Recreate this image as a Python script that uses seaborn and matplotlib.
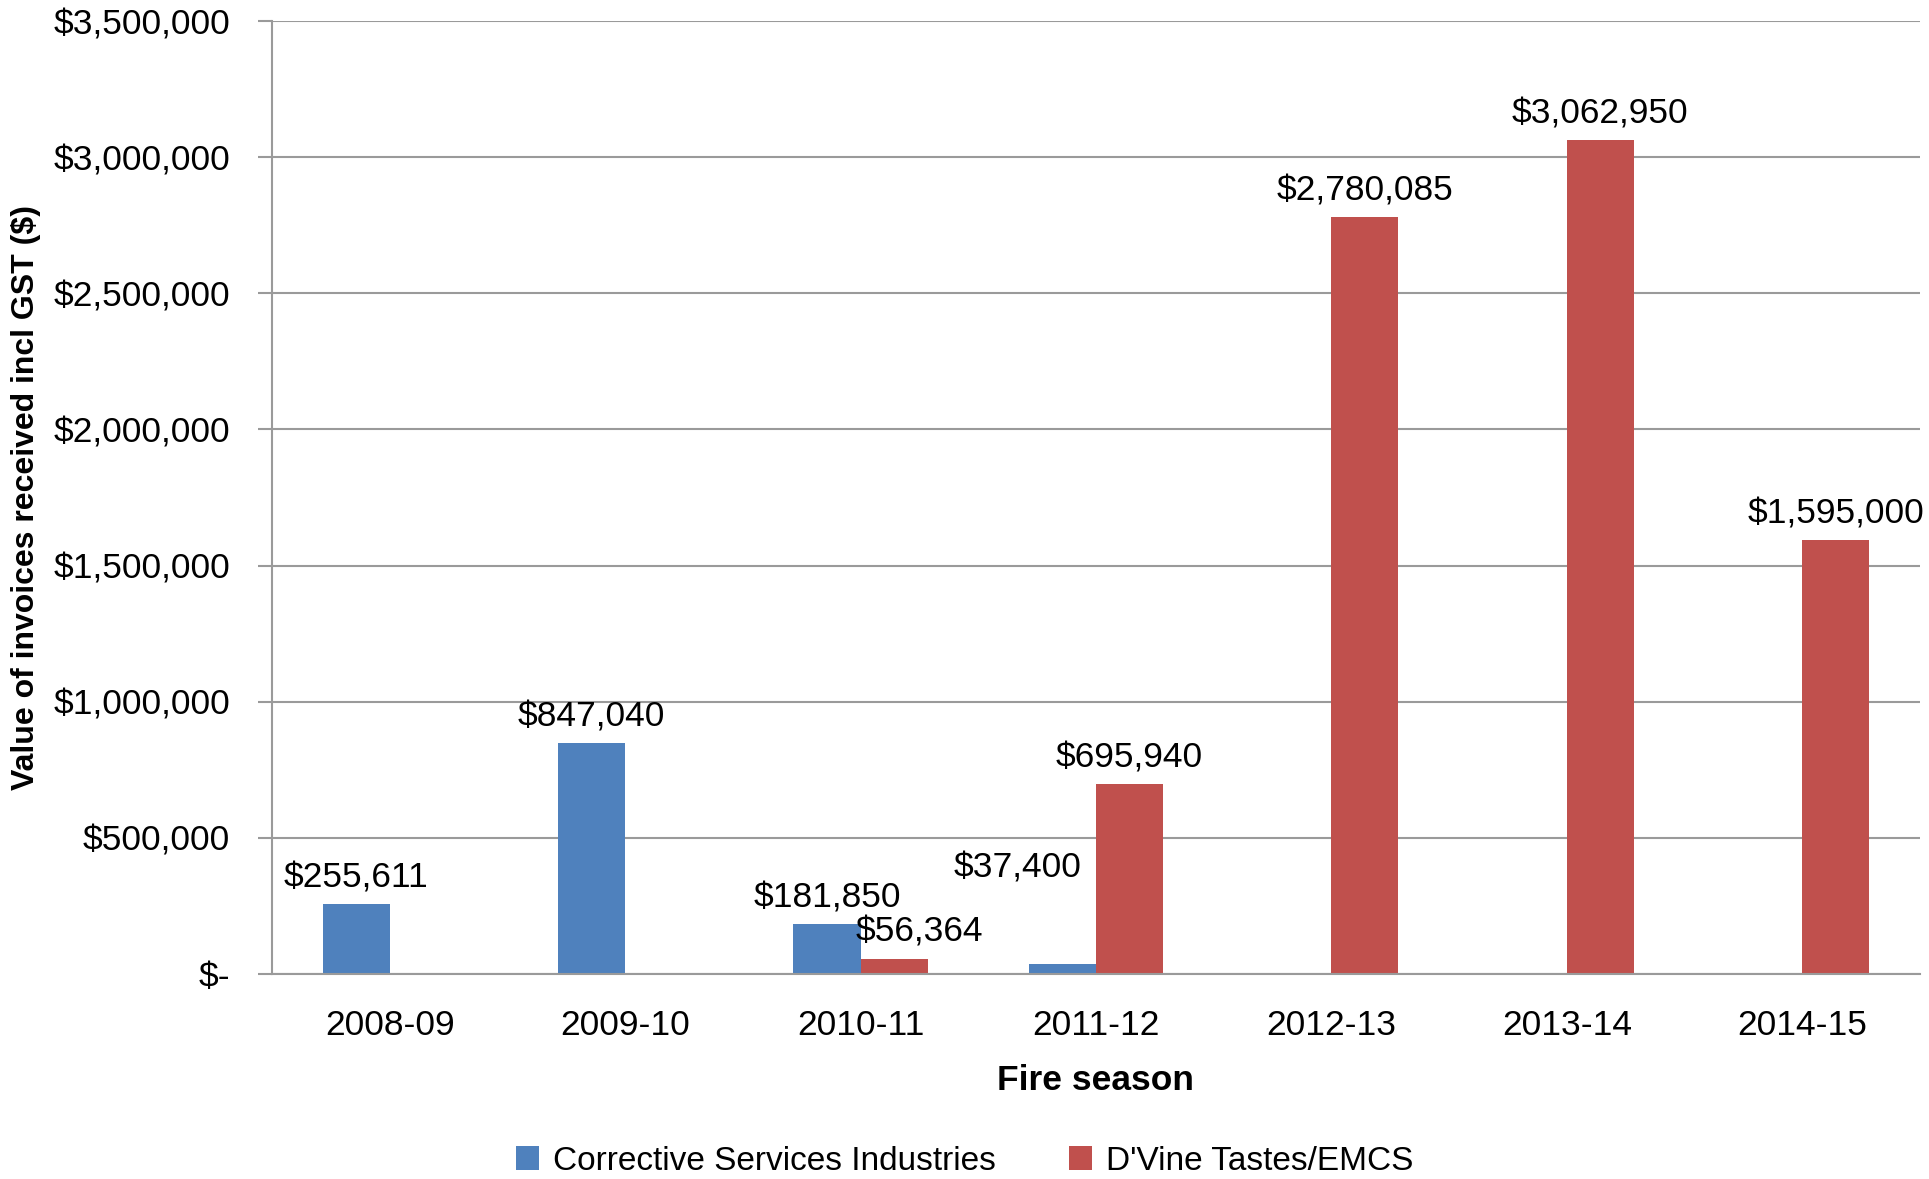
import numpy as np
import pandas as pd
import matplotlib
matplotlib.use("Agg")
import matplotlib.pyplot as plt
from matplotlib.ticker import FixedLocator
import seaborn as sns

# chart data
seasons = ["2008-09", "2009-10", "2010-11", "2011-12", "2012-13", "2013-14", "2014-15"]
csi_values = [255611, 847040, 181850, 37400, 0, 0, 0]
dvine_values = [0, 0, 56364, 695940, 2780085, 3062950, 1595000]
suppliers = ["Corrective Services Industries", "D'Vine Tastes/EMCS"]
colors = ["#4F81BD", "#C0504D"]
ytick_values = [0, 500000, 1000000, 1500000, 2000000, 2500000, 3000000, 3500000]

df = pd.DataFrame({
    "season": seasons * 2,
    "supplier": [suppliers[0]] * len(seasons) + [suppliers[1]] * len(seasons),
    "value": csi_values + dvine_values,
})

sns.set_theme(style="white")
plt.rcParams["font.family"] = ["Liberation Sans", "DejaVu Sans"]
plt.rcParams["text.color"] = "black"
plt.rcParams["axes.labelcolor"] = "black"
plt.rcParams["xtick.labelcolor"] = "black"
plt.rcParams["ytick.labelcolor"] = "black"

FS = 25.5
GRID = "#9A9A9A"

fig = plt.figure(figsize=(19.29, 11.79), dpi=100)
ax = fig.add_axes([0.141, 0.174, 0.8543, 0.808])

sns.barplot(data=df, x="season", y="value", hue="supplier", order=seasons,
            hue_order=suppliers, palette=colors, width=0.57, saturation=1,
            edgecolor="none", ax=ax, legend=True)

ax.set_xlim(-0.5, len(seasons) - 0.5)
ax.set_ylim(0, 3500000)
ax.set_yticks(ytick_values)
ax.set_yticklabels(["$-" if v == 0 else "${:,.0f}".format(v) for v in ytick_values])
ax.yaxis.grid(True, color=GRID, linewidth=1.5)
ax.set_axisbelow(True)

ax.xaxis.set_minor_locator(FixedLocator(np.arange(-0.5, len(seasons), 1.0)))
ax.tick_params(axis="x", which="major", length=0, labelsize=FS, pad=25)
ax.tick_params(axis="x", which="minor", length=9, width=1.5, color=GRID, direction="out")
ax.tick_params(axis="y", length=10, width=1.5, color=GRID, direction="out",
               labelsize=FS, pad=20, left=True)

for side in ["top", "right"]:
    ax.spines[side].set_visible(False)
for side in ["left", "bottom"]:
    ax.spines[side].set_color(GRID)
    ax.spines[side].set_linewidth(1.5)

ax.set_xlabel("Fire season", fontsize=FS, fontweight="bold", labelpad=16)
ax.set_ylabel("Value of invoices received incl GST ($)", fontsize=23, fontweight="bold", labelpad=9)

# data labels (a few nudged sideways like the original)
nudges = {(1, 2): (18, 0), (0, 3): (-32, 50)}
for hi, cont in enumerate(ax.containers):
    for ci, bar in enumerate(cont):
        h = bar.get_height()
        if not h or np.isnan(h):
            continue
        dx, dy = nudges.get((hi, ci), (0, 0))
        ax.annotate("${:,.0f}".format(h), (bar.get_x() + bar.get_width() / 2, h),
                    xytext=(dx, 7 + dy), textcoords="offset points",
                    ha="center", va="bottom", fontsize=FS, color="black")

handles, labels = ax.get_legend_handles_labels()
ax.get_legend().remove()
fig.legend(handles, labels, loc="center", bbox_to_anchor=(0.5, 0.015), ncol=2,
           frameon=False, fontsize=24, handlelength=0.7, handleheight=0.7,
           handletextpad=0.4, columnspacing=2.2)

fig.savefig("out.png", dpi=100)
